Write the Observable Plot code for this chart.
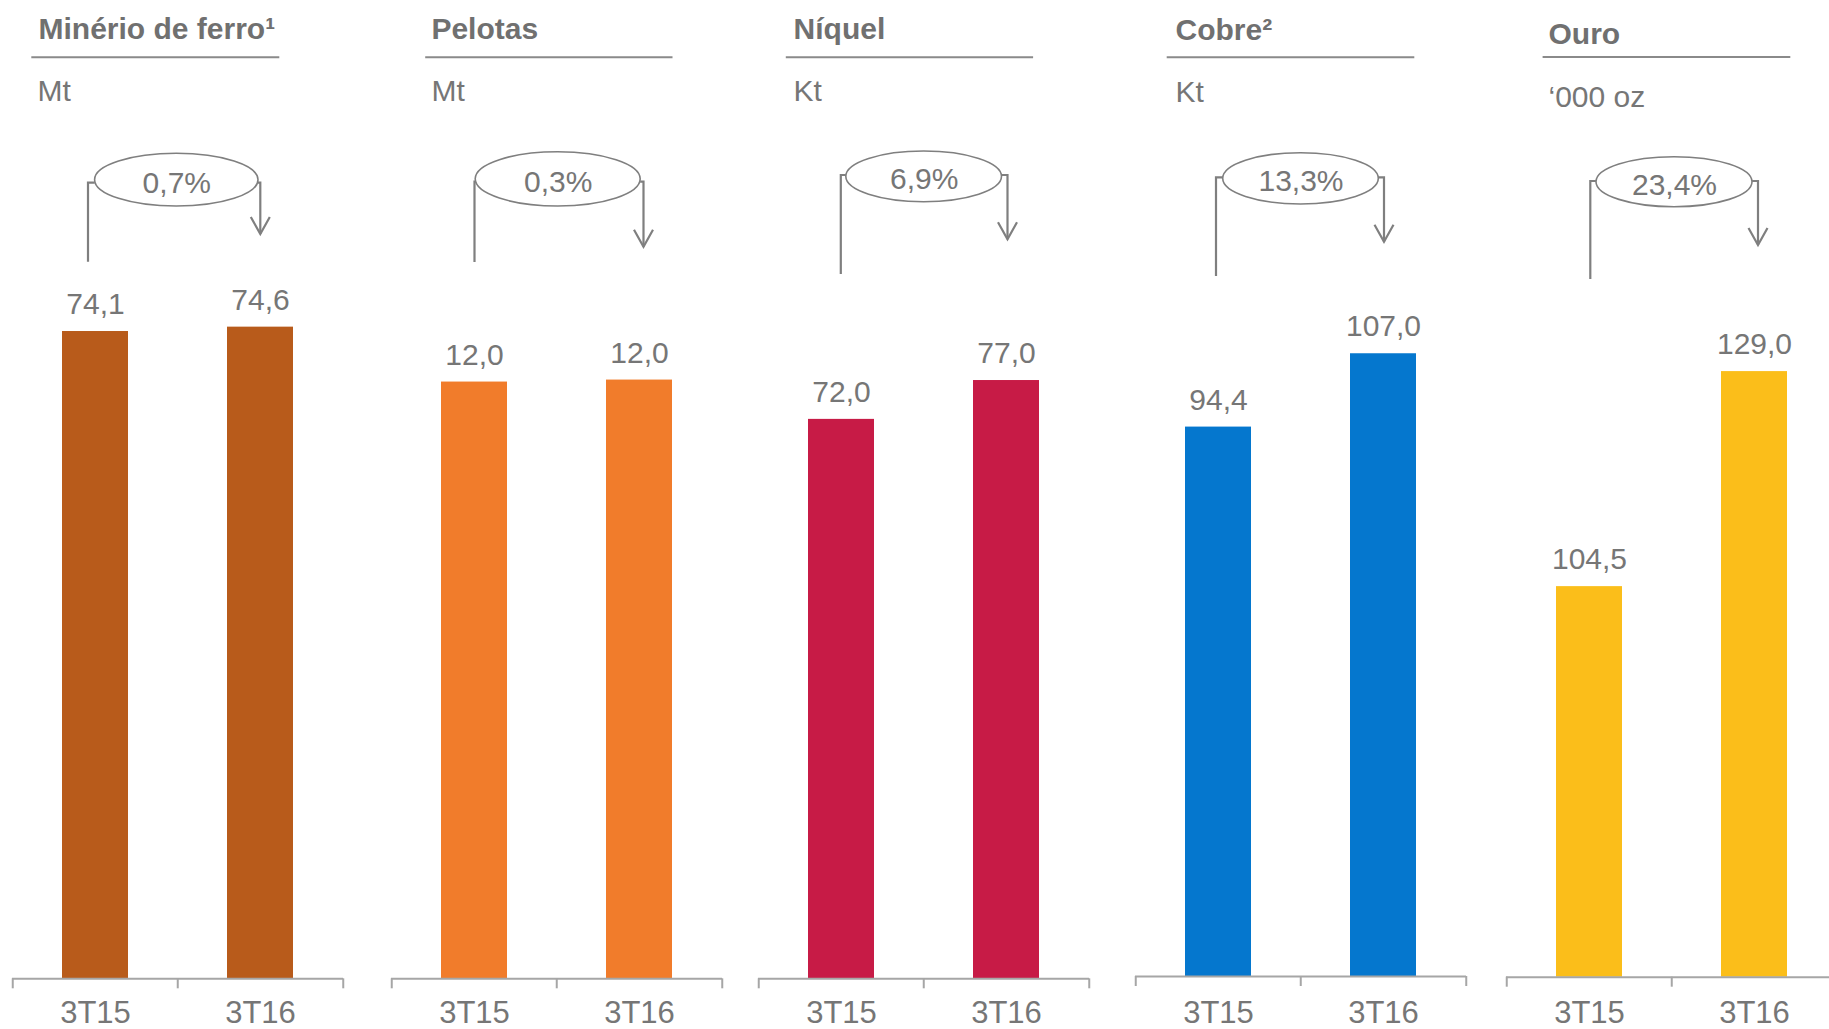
<!DOCTYPE html>
<html>
<head>
<meta charset="utf-8">
<script src="https://cdn.jsdelivr.net/npm/d3@7"></script>
<script src="https://cdn.jsdelivr.net/npm/@observablehq/plot@0.6"></script>
<style>
  html, body { margin: 0; padding: 0; background: #fff; overflow: hidden; }
  #chart { position: relative; width: 1829px; height: 1029px; overflow: hidden; background: #fff; }
  #chart svg { position: absolute; top: 0; overflow: visible; }
</style>
</head>
<body>
<div id="chart"></div>
<script>
// ---------- data ----------
const commodities = ["Minério de ferro¹", "Pelotas", "Níquel", "Cobre²", "Ouro"];
const units = ["Mt", "Mt", "Kt", "Kt", "‘000 oz"];
const periods = ["3T15", "3T16"];
const values3T15 = [74.1, 12.0, 72.0, 94.4, 104.5];
const values3T16 = [74.6, 12.04, 77.0, 107.0, 129.0];
const changes = ["0,7%", "0,3%", "6,9%", "13,3%", "23,4%"];

// ---------- layout / style (pixels, colours) ----------
const FRAME_TOP = 300;
const AXIS_W = 331;
const M = 2;
const TEXT = "#767676";
const LINE = "#7f7f7f";
const layout = [
  {color: "#B85B1B", left: 11.7, base: 0, yMax: 77.65, baseline: 978.3,
   title: [26.0, 38.3], unit: [25.0, 100.7], under: [19.3, 267.3, 57.3],
   ell: [82.6, 246.0, 153.3, 206.0], lLine: [76.0, 182.7, 261.7], rArrow: [248.3, 182.7, 234.0]},
  {color: "#F17C2B", left: 390.8, base: 0, yMax: 13.64, baseline: 978.3,
   title: [39.9, 38.3], unit: [39.9, 100.3], under: [34.2, 281.5, 57.3],
   ell: [84.2, 249.2, 151.7, 206.0], lLine: [83.5, 181.7, 262.0], rArrow: [252.5, 181.7, 246.7]},
  {color: "#C71B46", left: 758.2, base: 0, yMax: 87.3, baseline: 978.3,
   title: [35.1, 38.3], unit: [35.1, 100.3], under: [27.8, 275.1, 57.3],
   ell: [87.8, 243.5, 151.0, 201.7], lLine: [82.8, 175.0, 274.0], rArrow: [249.5, 175.0, 239.3]},
  {color: "#0577CE", left: 1135.0, base: 0, yMax: 116.15, baseline: 976.0,
   title: [40.0, 39.3], unit: [40.0, 101.7], under: [31.7, 279.3, 57.3],
   ell: [87.7, 243.3, 152.7, 204.0], lLine: [81.0, 177.3, 276.0], rArrow: [249.0, 177.3, 241.7]},
  {color: "#FBBE1A", left: 1505.7, base: 60, yMax: 137.1, baseline: 976.7,
   title: [42.0, 43.3], unit: [42.0, 106.0], under: [36.6, 284.3, 57.0],
   ell: [90.0, 246.0, 156.7, 206.7], lLine: [84.3, 181.0, 279.0], rArrow: [252.0, 181.0, 245.0]}
];

const fmt = v => v.toFixed(1).replace(".", ",");

// decoration: title underline, change ellipse, bracket line and arrow
function annotation(L) {
  return (index, scales, values, dims) => {
    const x0 = dims.marginLeft;
    const g = d3.create("svg:g").attr("fill", "none").attr("stroke", LINE);
    g.append("line")
      .attr("x1", x0 + L.under[0]).attr("x2", x0 + L.under[1])
      .attr("y1", L.under[2]).attr("y2", L.under[2])
      .attr("stroke", "#8a8a8a").attr("stroke-width", 2);
    const [ex1, ex2, ey1, ey2] = L.ell;
    g.append("ellipse")
      .attr("cx", x0 + (ex1 + ex2) / 2).attr("cy", (ey1 + ey2) / 2)
      .attr("rx", (ex2 - ex1) / 2).attr("ry", (ey2 - ey1) / 2)
      .attr("stroke-width", 1.6);
    const [lx, ly1, ly2] = L.lLine;
    g.append("path")
      .attr("d", `M${x0 + ex1},${ly1}H${x0 + lx}V${ly2}`)
      .attr("stroke-width", 2.2);
    const [rx, ry1, ry2] = L.rArrow;
    g.append("path")
      .attr("d", `M${x0 + ex2},${ry1}H${x0 + rx}V${ry2}`)
      .attr("stroke-width", 2.2);
    g.append("path")
      .attr("d", `M${x0 + rx - 9.5},${ry2 - 17}L${x0 + rx},${ry2}L${x0 + rx + 9.5},${ry2 - 17}`)
      .attr("stroke-width", 2.2);
    return g.node();
  };
}

const chart = document.getElementById("chart");
const step = AXIS_W / 2;

layout.forEach((L, i) => {
  const data = periods.map((p, j) => ({period: p, value: [values3T15, values3T16][j][i]}));
  const cxOff = (L.ell[0] + L.ell[1]) / 2 - AXIS_W / 2;
  const cy = (L.ell[2] + L.ell[3]) / 2;
  const plot = Plot.plot({
    width: AXIS_W + 2 * M,
    height: 1029,
    marginLeft: M,
    marginRight: M,
    marginTop: FRAME_TOP,
    marginBottom: 1029 - L.baseline,
    style: {fontFamily: "'Liberation Sans', Arial, sans-serif", fontSize: "30px", color: TEXT, background: "transparent", overflow: "visible"},
    x: {domain: periods, paddingInner: 0.6, paddingOuter: 0.3, axis: null},
    y: {domain: [L.base, L.yMax], axis: null},
    marks: [
      Plot.barY(data, {x: "period", y1: L.base, y2: "value", fill: L.color}),
      Plot.ruleY([L.base], {stroke: "#a6a6a6", strokeWidth: 2}),
      Plot.ruleX(periods, {x: d => d, y1: L.base, y2: L.base, insetBottom: -10, dx: -step / 2, stroke: "#a6a6a6", strokeWidth: 2}),
      Plot.ruleX([periods[periods.length - 1]], {x: d => d, y1: L.base, y2: L.base, insetBottom: -10, dx: step / 2, stroke: "#a6a6a6", strokeWidth: 2}),
      Plot.text(data, {x: "period", y: "value", text: d => fmt(d.value), dy: -17.5, lineAnchor: "bottom", fontSize: 30, fill: TEXT}),
      Plot.text(periods, {x: d => d, text: d => d, frameAnchor: "bottom", dy: 1022 - L.baseline, lineAnchor: "bottom", fontSize: 31, fill: TEXT}),
      Plot.text([commodities[i]], {text: d => d, frameAnchor: "top-left", textAnchor: "start", lineAnchor: "bottom", dx: L.title[0], dy: L.title[1] - FRAME_TOP, fontSize: 30, fontWeight: "bold", fill: "#707070"}),
      Plot.text([units[i]], {text: d => d, frameAnchor: "top-left", textAnchor: "start", lineAnchor: "bottom", dx: L.unit[0], dy: L.unit[1] - FRAME_TOP, fontSize: 30, fill: TEXT}),
      Plot.text([changes[i]], {text: d => d, frameAnchor: "top", textAnchor: "middle", lineAnchor: "bottom", dx: cxOff, dy: cy + 12.5 - FRAME_TOP, fontSize: 30, fill: TEXT}),
      annotation(L)
    ]
  });
  plot.style.left = (L.left - M) + "px";
  chart.append(plot);
});
</script>
</body>
</html>
